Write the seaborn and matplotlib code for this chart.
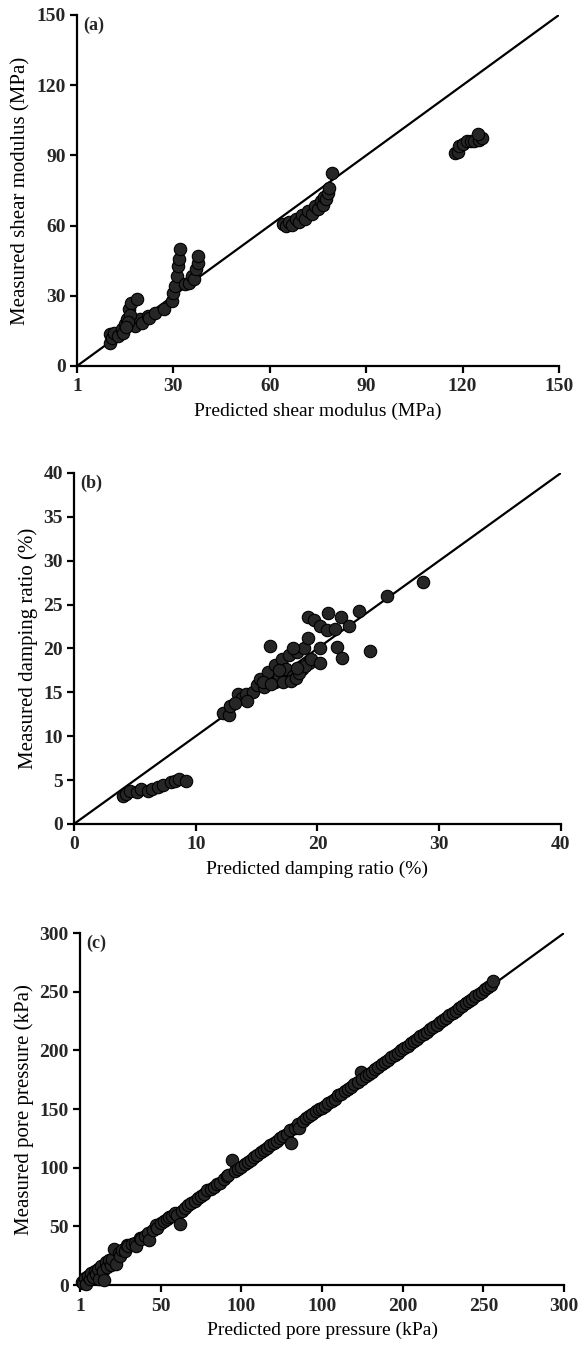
import matplotlib
matplotlib.use("Agg")
import matplotlib.pyplot as plt
import seaborn as sns
import pandas as pd

# ---------------- data ----------------
a_pred = [10.4, 10.2, 11.0, 11.6, 12.7, 13.9, 14.4, 15.0, 15.6, 16.2,
          16.8, 17.3, 17.9, 18.7, 19.6, 20.2, 22.0, 22.5, 24.3, 27.2,
          29.5, 30.0, 30.6, 31.2, 31.5, 31.8, 32.1, 33.5, 34.7, 35.8,
          36.4, 37.0, 37.6, 37.6, 16.5, 16.0, 15.2,
          64, 65, 66, 67, 68, 69, 70, 71, 72, 73,
          74, 75, 76, 76.5, 77, 77.5, 78, 78.5, 79.2,
          117.6, 118.5, 119, 120, 121.3, 122.5, 123.7, 125, 126, 124.8]
a_meas = [10.0, 13.5, 12.0, 14.2, 12.8, 15.7, 14.2, 17.8, 20.0, 24.2,
          27.0, 17.8, 17.1, 28.8, 20.0, 18.5, 21.4, 20.4, 22.8, 24.2,
          27.8, 31.3, 34.2, 38.5, 42.7, 45.6, 50.1, 34.9, 35.6, 38.5,
          37.0, 41.3, 44.2, 47.0, 22.0, 19.0, 16.5,
          60.5, 59.8, 61.5, 60.3, 63.0, 61.5, 64.5, 63.0, 66.3, 64.8,
          68.2, 67.0, 70.5, 69.0, 72.0, 71.5, 74.0, 76.0, 82.6,
          90.9, 91.5, 94, 95, 96.2, 96, 96.2, 96.5, 97.5, 99]

b_pred = [4.0, 4.3, 4.6, 5.2, 5.5, 6.1, 6.4, 6.9, 7.3, 8.0, 8.3, 8.6, 9.2,
          12.2, 12.7, 12.8, 13.5, 13.8, 14.1, 14.7, 15.0, 15.3, 15.6,
          15.9, 16.5, 16.5, 16.8, 17.1, 17.4, 17.4, 17.7, 18.0, 18.3,
          18.7, 18.9, 19.3, 15.5, 16.2, 16.8, 17.2, 17.8, 18.2, 18.5,
          19.0, 19.5, 14.2, 13.2,
          16.1, 18.0, 18.3, 19.2, 19.2, 19.7, 20.2, 20.8, 21.4, 21.9,
          22.6, 20.9, 23.4, 25.7, 28.7, 20.2, 21.6, 22.0, 24.3, 20.2]
b_meas = [3.2, 3.4, 3.8, 3.6, 4.0, 3.8, 4.0, 4.2, 4.4, 4.8, 4.9, 5.1, 4.9,
          12.7, 12.4, 13.5, 14.8, 14.3, 14.8, 15.0, 15.8, 16.5, 15.6,
          17.3, 18.1, 16.2, 16.9, 18.8, 16.5, 17.7, 19.2, 16.9, 19.6,
          17.7, 20.0, 18.4, 16.2, 16.0, 17.5, 16.2, 16.3, 16.6, 17.2,
          18.0, 18.8, 14.0, 13.8,
          20.3, 20.0, 17.8, 21.2, 23.6, 23.2, 22.6, 22.1, 22.2, 23.6,
          22.6, 24.0, 24.3, 26.0, 27.6, 20.0, 20.2, 18.9, 19.7, 18.4]

c_pred = [1, 2, 3, 4, 5, 6, 7, 8, 9, 10,
          11, 12, 13, 14, 15, 16, 17, 18, 19, 20,
          21, 22, 24, 25, 26, 28, 29, 30, 32, 34,
          35, 37, 38, 40, 42, 43, 45, 47, 48, 50,
          52, 54, 55, 57, 59, 60, 62, 63, 65, 67,
          69, 71, 73, 75, 77, 79, 81, 83, 85, 87,
          89, 91, 92, 94, 96, 98, 100, 102, 104, 106,
          108, 110, 112, 114, 116, 118, 120, 122, 124, 126,
          128, 130, 131, 133, 135, 136, 138, 140, 142, 144,
          146, 148, 150, 152, 154, 156, 158, 160, 162, 164,
          166, 168, 170, 172, 174, 175, 177, 179, 181, 183,
          185, 187, 189, 191, 193, 195, 197, 199, 201, 203,
          205, 207, 209, 211, 213, 215, 217, 219, 221, 223,
          225, 227, 229, 231, 233, 235, 237, 239, 241, 243,
          245, 247, 249, 251, 253, 255, 256]
c_meas = [3, 2, 6, 1, 8, 5, 10, 7, 12, 9,
          14, 5, 16, 12, 4, 20, 15, 21, 17, 22,
          31, 18, 27, 25, 30, 29, 34, 33, 35, 36,
          33, 40, 39, 42, 44, 38, 47, 51, 49, 53,
          55, 56, 58, 59, 61, 60, 52, 63, 66, 68,
          70, 72, 74, 76, 78, 81, 82, 84, 86, 87,
          90, 93, 94, 107, 97, 99, 101, 103, 105, 107,
          109, 111, 113, 115, 117, 119, 121, 123, 125, 127,
          129, 132, 121, 134, 137, 134, 140, 142, 144, 146,
          148, 150, 151, 153, 155, 157, 159, 162, 163, 165,
          167, 169, 171, 173, 182, 176, 178, 180, 182, 184,
          186, 188, 190, 192, 194, 196, 198, 200, 202, 204,
          206, 208, 210, 212, 214, 216, 218, 220, 222, 224,
          226, 228, 230, 232, 234, 236, 238, 240, 242, 244,
          246, 248, 250, 252, 254, 256, 259]

a_ticks = [0, 30, 60, 90, 120, 150]
a_ticklabels = ["1", "30", "60", "90", "120", "150"]
b_ticks = [0, 10, 20, 30, 40]
b_yticks = [0, 5, 10, 15, 20, 25, 30, 35, 40]
c_ticks = [0, 50, 100, 150, 200, 250, 300]
c_ticklabels = ["1", "50", "100", "100", "200", "250", "300"]

panels = [
    dict(x=a_pred, y=a_meas, lim=150, xt=a_ticks, xtl=a_ticklabels, yt=a_ticks,
         ytl=[str(t) for t in a_ticks], tag="(a)",
         xl="Predicted shear modulus (MPa)", yl="Measured shear modulus (MPa)",
         pos=[0.1323, 0.7287, 0.8282, 0.2602]),
    dict(x=b_pred, y=b_meas, lim=40, xt=b_ticks, xtl=[str(t) for t in b_ticks], yt=b_yticks,
         ytl=[str(t) for t in b_yticks], tag="(b)",
         xl="Predicted damping ratio (%)", yl="Measured damping ratio (%)",
         pos=[0.1271, 0.3892, 0.8368, 0.2602]),
    dict(x=c_pred, y=c_meas, lim=300, xt=c_ticks, xtl=c_ticklabels, yt=c_ticks,
         ytl=[str(t) for t in c_ticks], tag="(c)",
         xl="Predicted pore pressure (kPa)", yl="Measured pore pressure (kPa)",
         pos=[0.1375, 0.0474, 0.8316, 0.2609]),
]

sns.set_theme(style="ticks")
plt.rcParams['font.family'] = ['Liberation Serif', 'DejaVu Serif']
plt.rcParams['axes.linewidth'] = 1.6

fig = plt.figure(figsize=(5.82, 13.49), dpi=100)

for p in panels:
    ax = fig.add_axes(p["pos"])
    df = pd.DataFrame({"pred": p["x"], "meas": p["y"]})
    ax.axline((0, 0), slope=1, color="black", lw=1.6, zorder=1)
    sns.scatterplot(data=df, x="pred", y="meas", ax=ax, s=80,
                    color="#262626", edgecolor="black", linewidth=0.8,
                    zorder=3, clip_on=False)
    ax.set_xlim(0, p["lim"])
    ax.set_ylim(0, p["lim"])
    ax.set_xticks(p["xt"])
    ax.set_xticklabels(p["xtl"], fontsize=14, fontweight="bold")
    ax.set_yticks(p["yt"])
    ax.set_yticklabels(p["ytl"], fontsize=14, fontweight="bold")
    ax.tick_params(axis="both", direction="out", length=5, width=1.6,
                   color="black", pad=3)
    ax.tick_params(axis="x", pad=4)
    for s in ["top", "right"]:
        ax.spines[s].set_visible(False)
    for s in ["left", "bottom"]:
        ax.spines[s].set_color("black")
        ax.spines[s].set_linewidth(1.6)
    ax.set_xlabel(p["xl"], fontsize=14, labelpad=5, color="black")
    ax.set_ylabel(p["yl"], fontsize=15, labelpad=4, color="black")
    ax.text(0.012, 0.995, p["tag"], transform=ax.transAxes, fontsize=13,
            fontweight="bold", va="top", ha="left")
    ax.set_facecolor("white")

fig.savefig("out.png", dpi=100, facecolor="white")
